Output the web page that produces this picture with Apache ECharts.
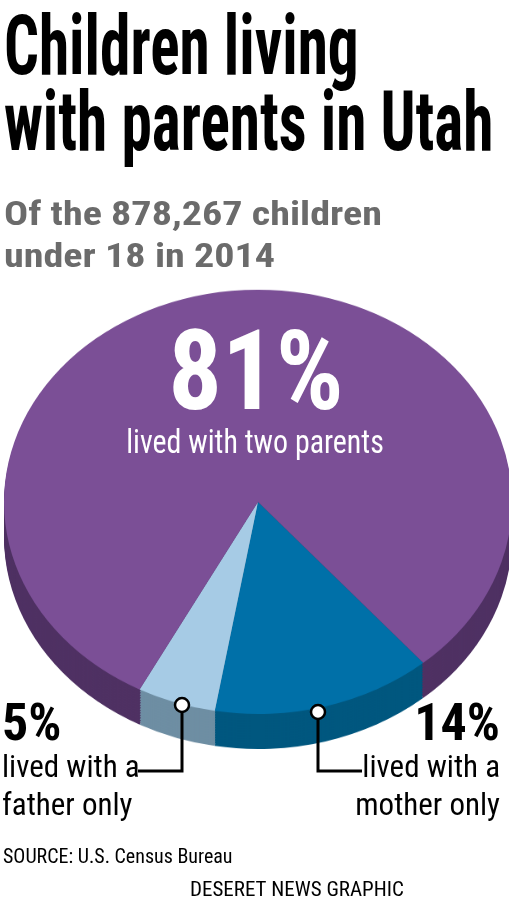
<!DOCTYPE html>
<html><head><meta charset="utf-8">
<script src="https://cdn.jsdelivr.net/npm/echarts@6/dist/echarts.min.js"></script>
<style>
html,body{margin:0;padding:0;width:509px;height:910px;overflow:hidden;background:#fff}
#pie{position:absolute;left:0;top:0;width:509px;height:1090px;transform:scaleY(0.835);transform-origin:0 0}
#txt{position:absolute;left:0;top:0;width:509px;height:910px}
</style></head><body>
<div id="pie"></div><div id="txt"></div>
<script>
const categories = ['lived with a mother only', 'lived with a father only', 'lived with two parents'];
const values = [14, 5, 81];
const topColors = ['#0070A8', '#A6CBE5', '#7B4F96'];
const sideColors = ['#00577F', '#6E8EA3', '#4F3163'];

const FONT = '"Roboto Condensed","Liberation Sans Narrow",Roboto,sans-serif';
const pie = echarts.init(document.getElementById('pie'));
const series = [];
const depth = 42, step = 3;
for (let k = depth; k >= 0; k -= step) {
  const isTop = k === 0;
  series.push({
    type: 'pie', radius: 254, center: [258, 601 + k], startAngle: -49.4, clockwise: true,
    silent: true, animation: false, label: {show: false}, labelLine: {show: false},
    itemStyle: {borderWidth: 0},
    data: categories.map((c, i) => ({name: c, value: values[i], itemStyle: {color: isTop ? topColors[i] : sideColors[i]}}))
  });
}
pie.setOption({series});

const t = echarts.init(document.getElementById('txt'));
// y = cap top of the text
const txt = (x, y, s, size, opt = {}) => ({type: 'text', x, y: y - 0.13 * size, scaleX: opt.sx || 1,
  style: {text: s, font: `${opt.w || 'normal'} ${size}px ${FONT}`, fill: opt.c || '#000', align: opt.a || 'left', verticalAlign: 'top'}});
t.setOption({graphic: [
  txt(4, 22, 'Children living', 84, {w: 'bold', sx: 0.73}),
  txt(4, 98, 'with parents in Utah', 84, {w: 'bold', sx: 0.73}),
  txt(4, 204, 'Of the 878,267 children', 34, {w: 'bold', c: '#6b6b6b', sx: 1.18}),
  txt(4, 246, 'under 18 in 2014', 34, {w: 'bold', c: '#6b6b6b', sx: 1.18}),
  txt(256, 340, values[2] + '%', 112, {w: 'bold', c: '#fff', a: 'center', sx: 0.95}),
  txt(255, 432, categories[2], 34, {c: '#fff', a: 'center', sx: 0.88}),
  {type: 'polyline', shape: {points: [[182, 705], [182, 771], [138, 771]]}, style: {stroke: '#000', lineWidth: 3, fill: null}},
  {type: 'polyline', shape: {points: [[318, 712], [318, 771], [362, 771]]}, style: {stroke: '#000', lineWidth: 3, fill: null}},
  {type: 'circle', shape: {cx: 182, cy: 705, r: 7}, style: {fill: '#fff', stroke: '#000', lineWidth: 2.5}},
  {type: 'circle', shape: {cx: 318, cy: 712, r: 7}, style: {fill: '#fff', stroke: '#000', lineWidth: 2.5}},
  txt(2, 708, values[1] + '%', 52, {w: 'bold'}),
  txt(2, 758, 'lived with a', 31),
  txt(2, 796, 'father only', 31),
  txt(500, 708, values[0] + '%', 52, {w: 'bold', a: 'right'}),
  txt(500, 758, 'lived with a', 31, {a: 'right'}),
  txt(500, 796, 'mother only', 31, {a: 'right'}),
  txt(3, 851, 'SOURCE: U.S. Census Bureau', 20),
  txt(190, 883, 'DESERET NEWS GRAPHIC', 21)
]});
</script></body></html>
